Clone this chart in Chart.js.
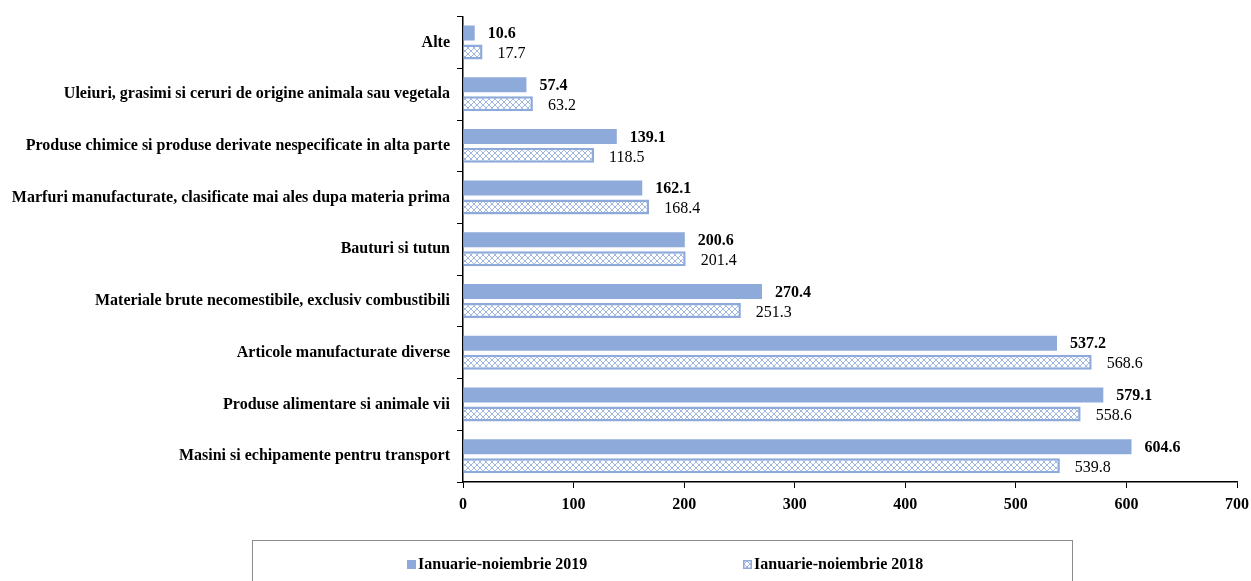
<!DOCTYPE html>
<html lang="ro">
<head>
    <meta charset="UTF-8">
    <title>Ianuarie-noiembrie 2019 vs 2018</title>
    <script src="https://cdn.jsdelivr.net/npm/chart.js"></script>
    <style>
        html, body { margin: 0; padding: 0; background: #fff; }
        #wrap { width: 1251px; height: 581px; position: relative; }
    </style>
</head>
<body>
    <div id="wrap"><canvas id="chart"></canvas></div>

    <script>
        // Data
        const categories = [
            'Alte',
            'Uleiuri, grasimi si ceruri de origine animala sau vegetala',
            'Produse chimice si produse derivate nespecificate in alta parte',
            'Marfuri manufacturate, clasificate mai ales dupa materia prima',
            'Bauturi si tutun',
            'Materiale brute necomestibile, exclusiv combustibili',
            'Articole manufacturate diverse',
            'Produse alimentare si animale vii',
            'Masini si echipamente pentru transport'
        ];
        const values2019 = [10.6, 57.4, 139.1, 162.1, 200.6, 270.4, 537.2, 579.1, 604.6];
        const values2018 = [17.7, 63.2, 118.5, 168.4, 201.4, 251.3, 568.6, 558.6, 539.8];
        const seriesNames = ['Ianuarie-noiembrie 2019', 'Ianuarie-noiembrie 2018'];
        const xTicks = [0, 100, 200, 300, 400, 500, 600, 700];

        const blue = '#8eaadb';
        const serif = '"Liberation Serif", "Times New Roman", serif';

        // crosshatch pattern for the 2018 series
        function makePattern() {
            const c = document.createElement('canvas');
            c.width = 6; c.height = 6;
            const g = c.getContext('2d');
            g.fillStyle = '#ffffff';
            g.fillRect(0, 0, 6, 6);
            g.fillStyle = '#9fb6e0';
            [[0,0],[1,1],[2,2],[3,3],[4,4],[5,5],[5,0],[4,1],[3,2],[2,3],[1,4],[0,5]].forEach(p => g.fillRect(p[0], p[1], 1, 1));
            return g.createPattern(c, 'repeat');
        }

        // value labels at bar ends + boxed legend at the bottom
        const extras = {
            id: 'extras',
            afterDatasetsDraw(chart) {
                const ctx = chart.ctx;
                ctx.save();
                ctx.textBaseline = 'middle';
                ctx.textAlign = 'left';
                chart.data.datasets.forEach((ds, i) => {
                    const meta = chart.getDatasetMeta(i);
                    ctx.font = (i === 0 ? 'bold ' : '') + '16px ' + serif;
                    ctx.fillStyle = '#000';
                    meta.data.forEach((bar, j) => {
                        const off = i === 0 ? 13 : 15;
                        ctx.fillText(ds.data[j].toFixed(1), bar.x + off, bar.y + (i === 0 ? 1 : 2));
                    });
                });
                ctx.restore();
            },
            afterDraw(chart) {
                const ctx = chart.ctx;
                ctx.save();
                ctx.strokeStyle = '#8c8c8c';
                ctx.lineWidth = 1;
                ctx.strokeRect(252.5, 540.5, 820, 60);
                const xs = [407, 743];
                ctx.textBaseline = 'middle';
                ctx.font = 'bold 16px ' + serif;
                chart.data.datasets.forEach((ds, i) => {
                    const x = xs[i];
                    if (i === 0) {
                        ctx.fillStyle = blue;
                        ctx.fillRect(x, 560, 9, 9);
                    } else {
                        ctx.fillStyle = ds.backgroundColor;
                        ctx.fillRect(x, 560, 9, 9);
                        ctx.strokeStyle = blue;
                        ctx.lineWidth = 1.5;
                        ctx.strokeRect(x + 0.75, 560.75, 7.5, 7.5);
                    }
                    ctx.fillStyle = '#000';
                    ctx.fillText(ds.label, x + 11, 565);
                });
                ctx.restore();
            }
        };

        const ctx = document.getElementById('chart').getContext('2d');
        const chart = new Chart(ctx, {
            type: 'bar',
            data: {
                labels: categories,
                datasets: [{
                    label: seriesNames[0],
                    data: values2019,
                    backgroundColor: blue,
                    borderWidth: 0,
                    categoryPercentage: 0.734,
                    barPercentage: 0.79
                }, {
                    label: seriesNames[1],
                    data: values2018,
                    backgroundColor: makePattern(),
                    borderColor: blue,
                    borderWidth: 2.5,
                    categoryPercentage: 0.734,
                    barPercentage: 0.79
                }]
            },
            options: {
                indexAxis: 'y',
                responsive: true,
                maintainAspectRatio: false,
                animation: false,
                layout: { padding: { top: 16, right: 0, bottom: 0, left: 0 } },
                plugins: {
                    legend: { display: false },
                    tooltip: { enabled: false }
                },
                scales: {
                    x: {
                        min: 0,
                        max: 700,
                        afterBuildTicks: (s) => { s.ticks = xTicks.map(v => ({ value: v })); },
                        afterFit: (s) => { s.height = 99; s.paddingRight = 14; s.paddingLeft = 0; },
                        border: { color: '#000', width: 1.5 },
                        grid: { drawOnChartArea: false, drawTicks: true, tickLength: 6, color: '#000' },
                        ticks: {
                            color: '#000',
                            padding: 7,
                            font: { family: serif, size: 16, weight: 'bold' }
                        }
                    },
                    y: {
                        afterFit: (s) => { s.width = 463; },
                        border: { color: '#000', width: 1.5 },
                        grid: { drawOnChartArea: false, drawTicks: true, tickLength: 6, color: '#000', offset: true },
                        ticks: {
                            color: '#000',
                            padding: 7,
                            autoSkip: false,
                            font: { family: serif, size: 16, weight: 'bold' }
                        }
                    }
                }
            },
            plugins: [extras]
        });
    </script>
</body>
</html>
